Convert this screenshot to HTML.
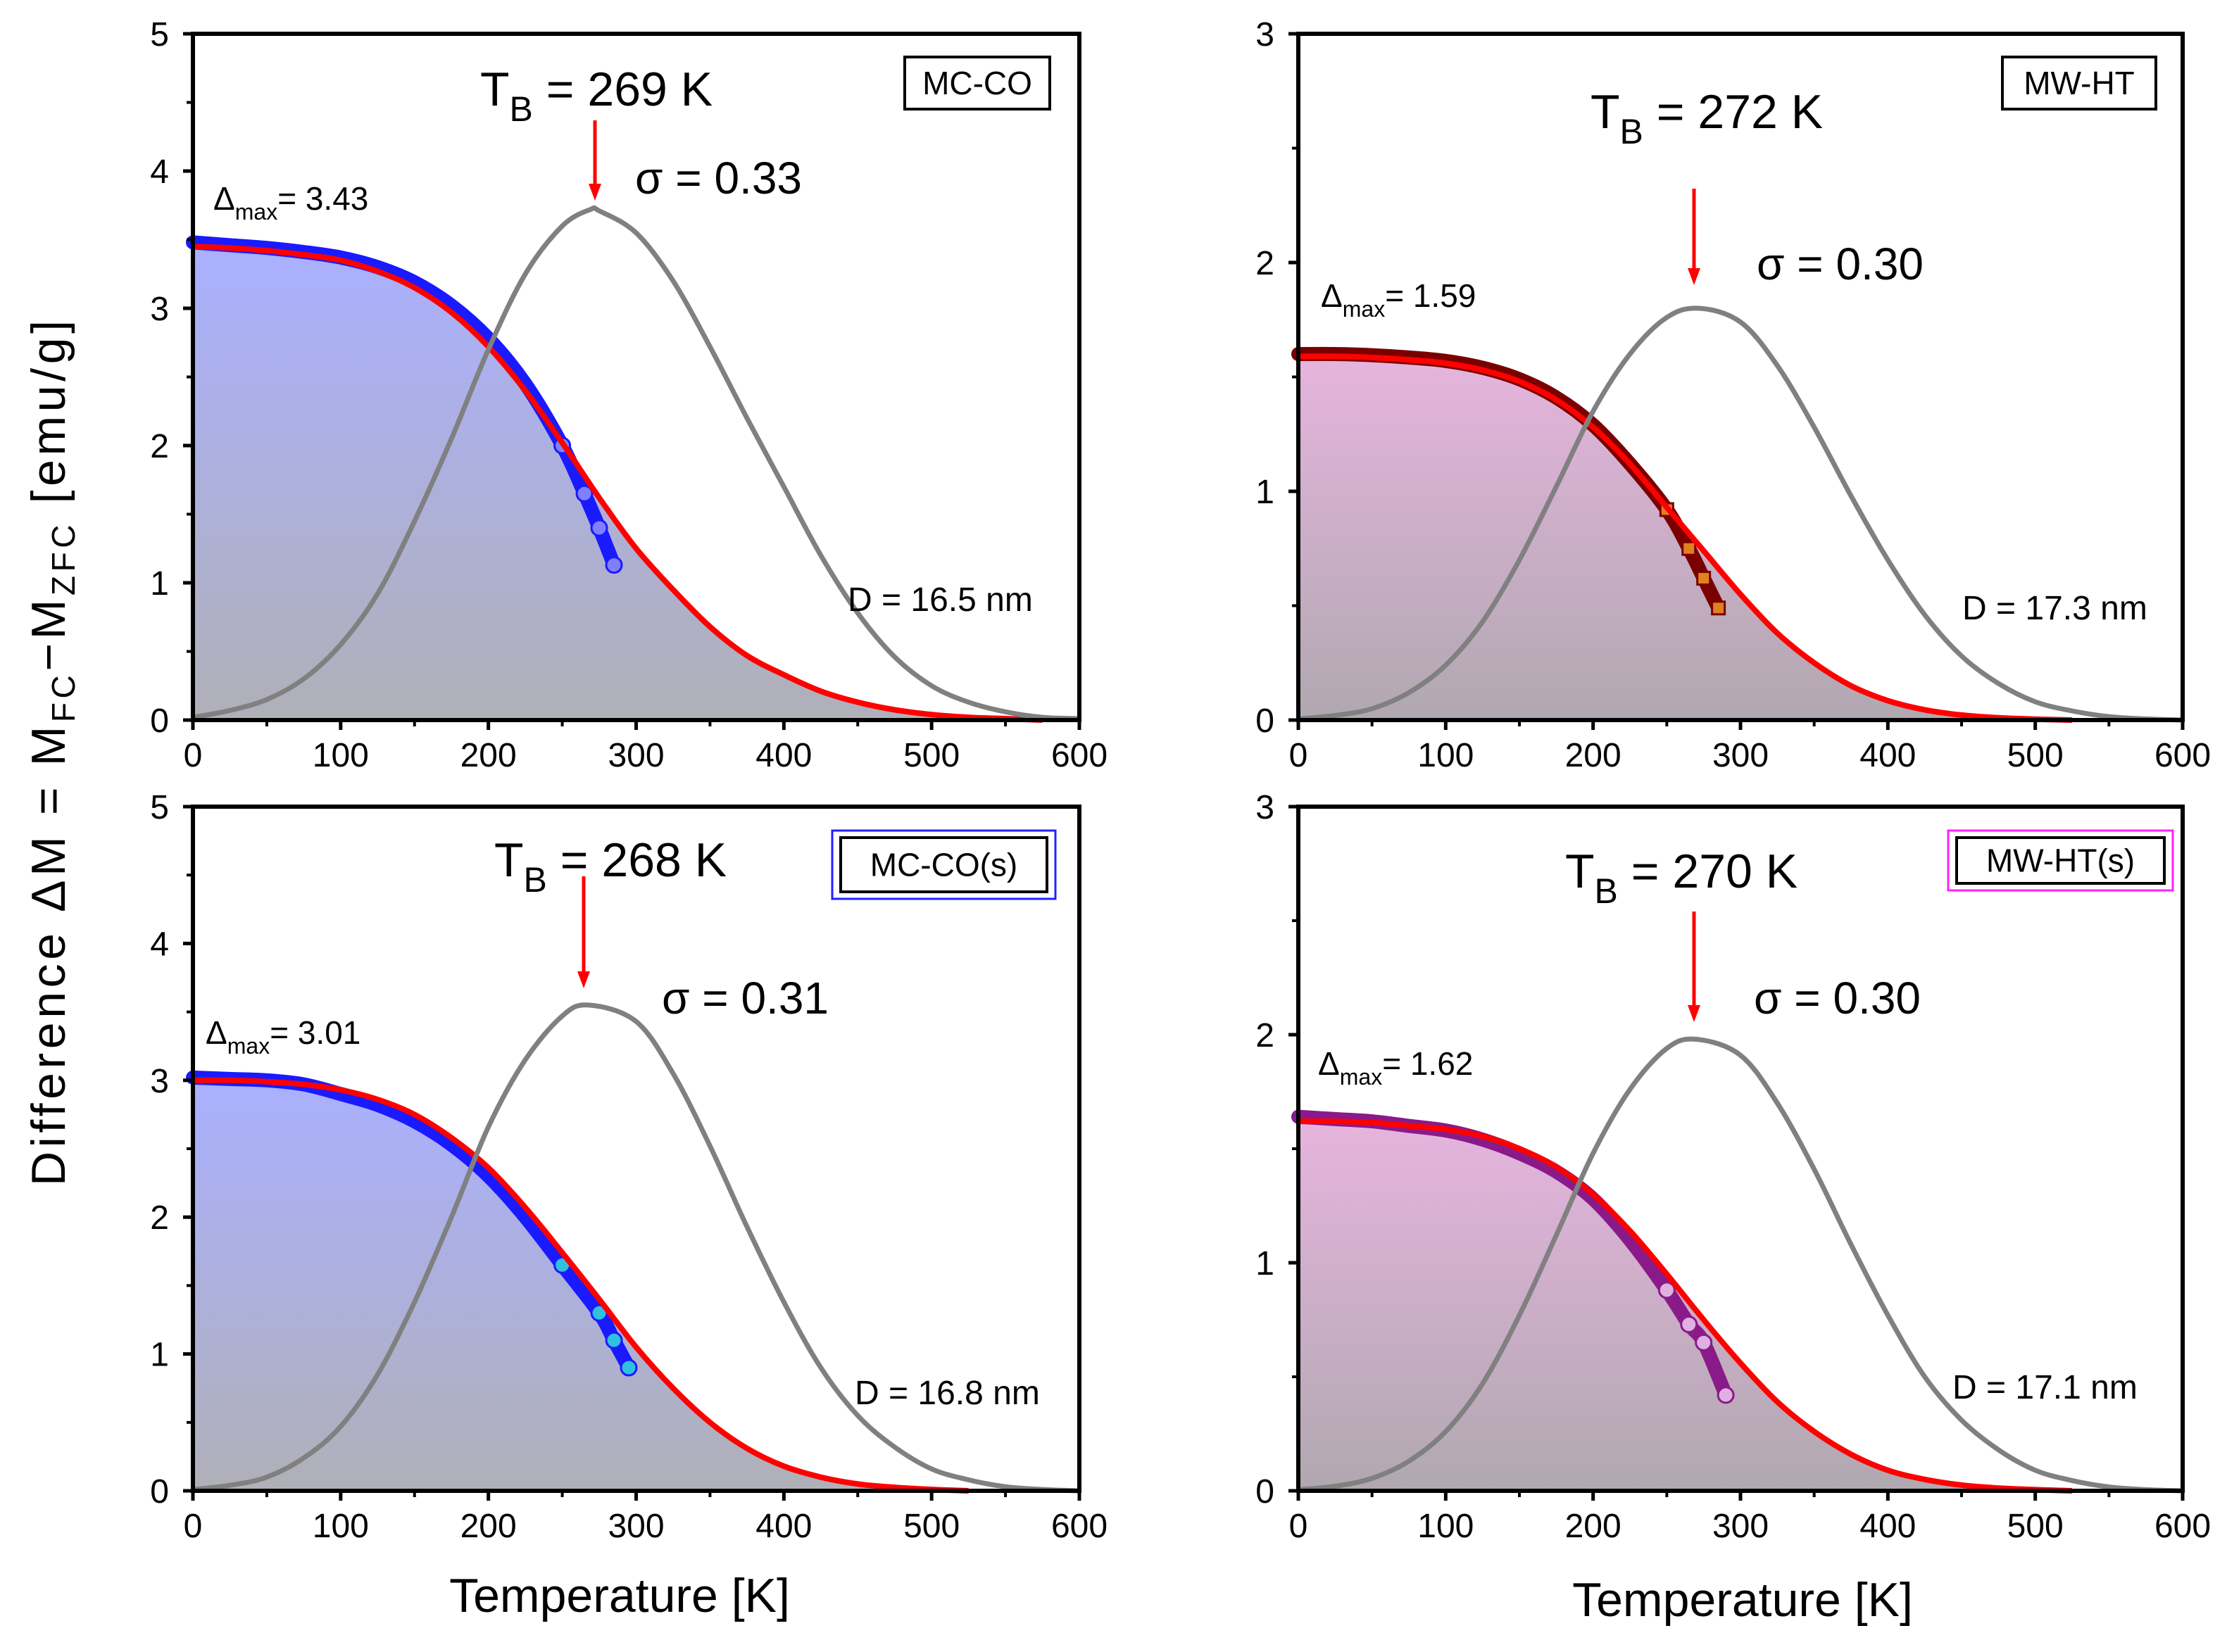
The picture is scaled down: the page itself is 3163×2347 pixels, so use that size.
<!DOCTYPE html>
<html><head><meta charset="utf-8"><style>
html,body{margin:0;padding:0;background:#fff;}
svg{display:block;font-family:"Liberation Sans",Arial,sans-serif;}
</style></head><body>
<svg id="fig" width="3163" height="2347" viewBox="0 0 3163 2347" xmlns="http://www.w3.org/2000/svg">
<defs>
<linearGradient id="gBlue" x1="0" y1="0" x2="0" y2="1"><stop offset="0" stop-color="#aab0ff"/><stop offset="1" stop-color="#b0b0b8"/></linearGradient>
<linearGradient id="gPink" x1="0" y1="0" x2="0" y2="1"><stop offset="0" stop-color="#e6b4de"/><stop offset="1" stop-color="#b0a8b0"/></linearGradient>
</defs>
<text transform="translate(92,1070) rotate(-90)" text-anchor="middle" font-size="68" textLength="1230">Difference  ΔM = M<tspan font-size="46" dy="14">FC</tspan><tspan dy="-14">−M</tspan><tspan font-size="46" dy="14">ZFC</tspan><tspan dy="-14">   [emu/g]</tspan></text>
<text x="880" y="2290" text-anchor="middle" font-size="68">Temperature [K]</text>
<text x="2475" y="2296" text-anchor="middle" font-size="68">Temperature [K]</text>
</svg>
<script>
// ---- data (K, emu/g) ----
const xTicks = [0,100,200,300,400,500,600];
const yTicks5 = [0,1,2,3,4,5];
const yTicks3 = [0,1,2,3];

const fitT1 = [0,25,50,75,100,125,150,175,200,225,250,275,300,325,350,375,400,425,450,475,500,525,550,575];
const fitM1 = [3.45,3.44,3.42,3.39,3.35,3.27,3.15,2.97,2.72,2.40,2.02,1.62,1.25,0.95,0.68,0.47,0.33,0.21,0.13,0.075,0.04,0.02,0.01,0.0];
const distT1 = [0,25,50,75,100,125,150,175,200,225,250,269,275,300,325,350,375,400,425,450,475,500,525,550,575,600];
const distM1 = [0.02,0.07,0.15,0.3,0.55,0.92,1.45,2.05,2.7,3.25,3.6,3.72,3.71,3.55,3.2,2.72,2.2,1.7,1.2,0.78,0.46,0.25,0.13,0.06,0.02,0.01];
const dataT1 = [0,25,50,75,100,125,150,175,200,225,250,265,275,285];
const dataM1 = [3.48,3.46,3.44,3.41,3.37,3.3,3.19,3.02,2.78,2.45,2.0,1.65,1.4,1.13];

const fitT2 = [0,25,50,75,100,125,150,175,200,225,250,275,300,325,350,375,400,425,450,475,500,525];
const fitM2 = [1.59,1.59,1.585,1.575,1.56,1.53,1.48,1.40,1.28,1.12,0.93,0.74,0.55,0.38,0.25,0.15,0.085,0.045,0.022,0.01,0.004,0.0];
const distT2 = [0,25,50,75,100,125,150,175,200,225,250,272,300,325,350,375,400,425,450,475,500,525,550,575,600];
const distM2 = [0.005,0.02,0.05,0.12,0.24,0.43,0.7,1.02,1.35,1.6,1.76,1.8,1.74,1.55,1.28,0.98,0.7,0.46,0.28,0.16,0.08,0.04,0.015,0.005,0.0];
const dataT2 = [0,25,50,75,100,125,150,175,200,225,250,265,275,285];
const dataM2 = [1.6,1.6,1.595,1.585,1.57,1.54,1.49,1.41,1.29,1.12,0.92,0.75,0.62,0.49];

const fitT3 = [0,25,50,75,100,125,150,175,200,225,250,275,300,325,350,375,400,425,450,475,500,525];
const fitM3 = [3.0,3.0,2.99,2.97,2.93,2.86,2.75,2.58,2.36,2.07,1.74,1.40,1.05,0.75,0.5,0.31,0.18,0.1,0.05,0.025,0.01,0.0];
const distT3 = [0,25,50,75,100,125,150,175,200,225,250,268,300,325,350,375,400,425,450,475,500,525,550,575,600];
const distM3 = [0.01,0.04,0.1,0.24,0.47,0.85,1.38,2.0,2.66,3.15,3.47,3.55,3.43,3.05,2.52,1.93,1.38,0.9,0.55,0.32,0.16,0.08,0.03,0.01,0.0];
const dataT3 = [0,25,50,75,100,125,150,175,200,225,250,275,285,295];
const dataM3 = [3.02,3.01,3.0,2.97,2.9,2.82,2.7,2.53,2.3,2.0,1.65,1.3,1.1,0.9];

const fitT4 = [0,25,50,75,100,125,150,175,200,225,250,275,300,325,350,375,400,425,450,475,500,525];
const fitM4 = [1.62,1.62,1.615,1.6,1.585,1.555,1.5,1.42,1.3,1.14,0.95,0.75,0.56,0.39,0.26,0.16,0.09,0.05,0.025,0.012,0.005,0.0];
const distT4 = [0,25,50,75,100,125,150,175,200,225,250,270,300,325,350,375,400,425,450,475,500,525,550,575,600];
const distM4 = [0.005,0.02,0.055,0.13,0.26,0.47,0.77,1.12,1.48,1.76,1.94,1.98,1.91,1.7,1.41,1.08,0.77,0.5,0.31,0.18,0.09,0.045,0.017,0.005,0.0];
const dataT4 = [0,25,50,75,100,125,150,175,200,225,250,265,275,290];
const dataM4 = [1.64,1.63,1.62,1.6,1.58,1.54,1.48,1.4,1.28,1.1,0.88,0.73,0.65,0.42];

const NS="http://www.w3.org/2000/svg";
const svg=document.getElementById('fig');
function mk(tag,attrs,parent){const e=document.createElementNS(NS,tag);for(const k in attrs)e.setAttribute(k,attrs[k]);(parent||svg).appendChild(e);return e;}
function smooth(P){
 let d='M'+P[0][0].toFixed(1)+','+P[0][1].toFixed(1);
 for(let i=0;i<P.length-1;i++){
  const p0=P[Math.max(0,i-1)],p1=P[i],p2=P[i+1],p3=P[Math.min(P.length-1,i+2)];
  const c1x=p1[0]+(p2[0]-p0[0])/6,c1y=p1[1]+(p2[1]-p0[1])/6;
  const c2x=p2[0]-(p3[0]-p1[0])/6,c2y=p2[1]-(p3[1]-p1[1])/6;
  d+=' C'+c1x.toFixed(1)+','+c1y.toFixed(1)+' '+c2x.toFixed(1)+','+c2y.toFixed(1)+' '+p2[0].toFixed(1)+','+p2[1].toFixed(1);
 }
 return d;
}

const panels=[
 {id:'mc-co',x0:274,x1:1533,yb:1023,yt:48,ymax:5,yt_:yTicks5,minor:0.5,fit:[fitT1,fitM1],dist:[distT1,distM1],dat:[dataT1,dataM1],fill:'url(#gBlue)',mc:'#1a1aff',mf:'#8080ff',
  tb:'269',tbx:682,tby:150,sig:'0.33',sx:902,sy:275,ax:845,ay1:171,ay2:285,dm:'3.43',dx:303,dy:298,box:[1285,81,206,74],box2:null,lab:'MC-CO',D:'16.5',Dx:1204,Dy:868},
 {id:'mw-ht',x0:1844,x1:3100,yb:1023,yt:48,ymax:3,yt_:yTicks3,minor:0.5,fit:[fitT2,fitM2],dist:[distT2,distM2],dat:[dataT2,dataM2],fill:'url(#gPink)',mc:'#7a0000',mf:'#e08020',sq:true,
  tb:'272',tbx:2259,tby:182,sig:'0.30',sx:2495,sy:397,ax:2406,ay1:268,ay2:405,dm:'1.59',dx:1876,dy:436,box:[2844,81,218,74],box2:null,lab:'MW-HT',D:'17.3',Dx:2787,Dy:880},
 {id:'mc-co-s',x0:274,x1:1533,yb:2118,yt:1146,ymax:5,yt_:yTicks5,minor:0.5,fit:[fitT3,fitM3],dist:[distT3,distM3],dat:[dataT3,dataM3],fill:'url(#gBlue)',mc:'#1a1aff',mf:'#30c0e0',
  tb:'268',tbx:702,tby:1245,sig:'0.31',sx:940,sy:1440,ax:829,ay1:1245,ay2:1404,dm:'3.01',dx:292,dy:1483,box:[1194,1190,293,77],box2:[1182,1180,317,97,'#2020ff'],lab:'MC-CO(s)',D:'16.8',Dx:1214,Dy:1995},
 {id:'mw-ht-s',x0:1844,x1:3100,yb:2118,yt:1146,ymax:3,yt_:yTicks3,minor:0.5,fit:[fitT4,fitM4],dist:[distT4,distM4],dat:[dataT4,dataM4],fill:'url(#gPink)',mc:'#8a1a8a',mf:'#e0b0e0',
  tb:'270',tbx:2223,tby:1261,sig:'0.30',sx:2491,sy:1440,ax:2406,ay1:1295,ay2:1452,dm:'1.62',dx:1872,dy:1527,box:[2779,1190,295,65],box2:[2767,1180,319,85,'#ff20ff'],lab:'MW-HT(s)',D:'17.1',Dx:2773,Dy:1987}
];

panels.forEach(p=>{
 const g=mk('g',{});
 
 
 const X=t=>p.x0+(t/600)*(p.x1-p.x0);
 const Y=v=>p.yb-(v/p.ymax)*(p.yb-p.yt);
 const line=(T,M)=>smooth(T.map((t,i)=>[X(t),Y(M[i])]));
 const [fT,fM]=p.fit;
 const area=mk('path',{d:line(fT,fM)+' L'+X(600)+','+p.yb+' L'+X(0)+','+p.yb+' Z',fill:p.fill,stroke:'none'},g);
 
 
 const [dT,dM]=p.dat;
 const band=mk('path',{d:line(dT,dM),fill:'none',stroke:p.mc,'stroke-width':20,'stroke-linecap':'round','stroke-linejoin':'round'},g);
 
 
 dT.forEach((t,i)=>{
  let m;
  if(i<dT.length-4) return;
  if(p.sq){m=mk('rect',{x:X(t)-9,y:Y(dM[i])-9,width:18,height:18,fill:p.mf,stroke:p.mc,'stroke-width':3},g);}
  else{m=mk('circle',{cx:X(t),cy:Y(dM[i]),r:11,fill:p.mf,stroke:p.mc,'stroke-width':3},g);}
  
  
 });
 const fit=mk('path',{d:line(fT,fM),fill:'none',stroke:'#ff0000','stroke-width':8,'stroke-linejoin':'round'},g);
 
 
 const [gT,gM]=p.dist;
 const dist=mk('path',{d:line(gT,gM),fill:'none',stroke:'#808080','stroke-width':7,'stroke-linejoin':'round'},g);
 
 
 const fr=mk('rect',{x:p.x0,y:p.yt,width:p.x1-p.x0,height:p.yb-p.yt,fill:'none',stroke:'#000','stroke-width':6},g);
 
 
 xTicks.forEach(t=>{
  const tk=mk('line',{x1:X(t),x2:X(t),y1:p.yb,y2:p.yb+14,stroke:'#000','stroke-width':5},g);
  
  
  const lb=mk('text',{x:X(t),y:p.yb+66,'text-anchor':'middle','font-size':48},g);
  lb.textContent=t;
  
  
 });
 for(let t=50;t<600;t+=100){
  const tk=mk('line',{x1:X(t),x2:X(t),y1:p.yb,y2:p.yb+9,stroke:'#000','stroke-width':4},g);
  
  
 }
 p.yt_.forEach(v=>{
  const tk=mk('line',{x1:p.x0-14,x2:p.x0,y1:Y(v),y2:Y(v),stroke:'#000','stroke-width':5},g);
  
  
  const lb=mk('text',{x:p.x0-34,y:Y(v)+17,'text-anchor':'end','font-size':48},g);
  lb.textContent=v;
  
  
 });
 for(let v=p.minor;v<p.ymax;v+=1){
  const tk=mk('line',{x1:p.x0-9,x2:p.x0,y1:Y(v),y2:Y(v),stroke:'#000','stroke-width':4},g);
  
  
 }
 const tb=mk('text',{x:p.tbx,y:p.tby,'font-size':68},g);
 tb.innerHTML='T<tspan font-size="50" dy="22">B</tspan><tspan dy="-22"> = '+p.tb+' K</tspan>';
 
 
 const ar=mk('line',{x1:p.ax,x2:p.ax,y1:p.ay1,y2:p.ay2-20,stroke:'#ff0000','stroke-width':5},g);
 
 
 const ah=mk('polygon',{points:(p.ax-9)+','+(p.ay2-24)+' '+(p.ax+9)+','+(p.ay2-24)+' '+p.ax+','+p.ay2,fill:'#ff0000'},g);
 
 
 const sg=mk('text',{x:p.sx,y:p.sy,'font-size':64},g);
 sg.textContent='σ = '+p.sig;
 
 
 const dm=mk('text',{x:p.dx,y:p.dy,'font-size':46},g);
 dm.innerHTML='Δ<tspan font-size="32" dy="14">max</tspan><tspan dy="-14">= '+p.dm+'</tspan>';
 
 
 const dl=mk('text',{x:p.Dx,y:p.Dy,'font-size':48},g);
 dl.textContent='D = '+p.D+' nm';
 
 
 if(p.box2){
  const b2=mk('rect',{x:p.box2[0],y:p.box2[1],width:p.box2[2],height:p.box2[3],fill:'#fff',stroke:p.box2[4],'stroke-width':3},g);
  
  
 }
 const b=mk('rect',{x:p.box[0],y:p.box[1],width:p.box[2],height:p.box[3],fill:'#fff',stroke:'#000','stroke-width':4},g);
 
 
 const bl=mk('text',{x:p.box[0]+p.box[2]/2,y:p.box[1]+p.box[3]/2+16,'text-anchor':'middle','font-size':46},g);
 bl.textContent=p.lab;
 
 
});
</script>
</body></html>
